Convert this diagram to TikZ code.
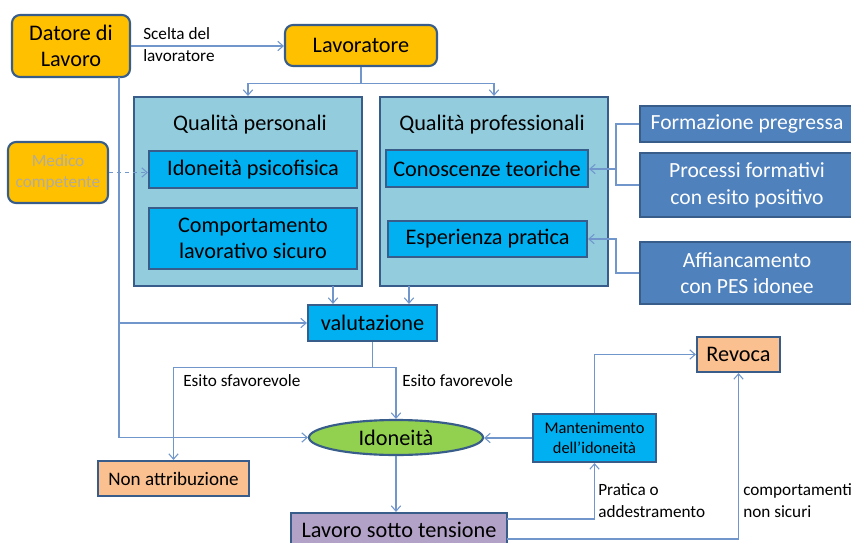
\documentclass[tikz,border=0pt]{standalone}
\usepackage{fontspec}
\setmainfont{Carlito}
\usetikzlibrary{arrows.meta,shapes.geometric}
\definecolor{bordo}{HTML}{385D8A}
\definecolor{arancio}{HTML}{FFC000}
\definecolor{azzurro}{HTML}{93CDDD}
\definecolor{ciano}{HTML}{00B0F0}
\definecolor{acciaio}{HTML}{4F81BD}
\definecolor{verde}{HTML}{92D050}
\definecolor{pesca}{HTML}{FAC090}
\definecolor{lilla}{HTML}{B3A2C7}
\definecolor{linea}{HTML}{7096CC}
\definecolor{grigio}{HTML}{B2AC9E}
\tikzset{
  sz/.style 2 args={minimum width=#1*0.75pt,minimum height=#2*0.75pt},
  box/.style={draw=bordo,line width=1.6pt,inner sep=0pt,align=center},
  tondo/.style={box,fill=arancio,rounded corners=6pt},
  gruppo/.style={box,fill=azzurro},
  cianobox/.style={box,fill=ciano},
  acciaiobox/.style={box,fill=acciaio,text=white,font=\fontsize{16.2}{20}\selectfont},
  pescabox/.style={box,fill=pesca},
  lillabox/.style={box,fill=lilla},
  ellisse/.style={box,ellipse,fill=verde},
  fA/.style={font=\fontsize{16.7}{20}\selectfont},
  fB/.style={font=\fontsize{14.3}{18}\selectfont},
  fC/.style={font=\fontsize{12.9}{16}\selectfont},
  etichetta/.style={fC,align=left,inner sep=0pt,anchor=west},
  conn/.style={draw=linea,line width=0.8pt},
  arr/.style={conn,-{Straight Barb[length=4pt,width=7pt]}}
}
\begin{document}
\begin{tikzpicture}[x=0.75pt,y=-0.75pt]
\useasboundingbox (0,0) rectangle (851,543);
\node[tondo,sz={118}{62},fA] (datore) at (71,46) {Datore di\\Lavoro};
\node[tondo,sz={152}{41},fA] (lavoratore) at (361,45.5) {Lavoratore};
\node[gruppo,sz={228}{189}] (qpers) at (248,191.5) {};
\node[fA] (qperst) at (250,125) {Qualità personali};
\node[gruppo,sz={228}{189}] (qprof) at (494,191.5) {};
\node[fA] (qproft) at (492,125) {Qualità professionali};
\node[cianobox,sz={208}{37},fA] (idon) at (253,169.5) {Idoneità psicofisica};
\node[cianobox,sz={208}{61},fA] (compor) at (253,238.5) {Comportamento\\lavorativo sicuro};
\node[cianobox,sz={202}{37},fA] (conosc) at (487,168.5) {Conoscenze teoriche};
\node[cianobox,sz={199}{36},fA] (esper) at (487.5,239) {Esperienza pratica};
\node[acciaiobox,sz={214}{36}] (formaz) at (747,124) {Formazione pregressa};
\node[acciaiobox,sz={214}{64}] (processi) at (747,185) {Processi formativi\\con esito positivo};
\node[acciaiobox,sz={214}{62}] (affianc) at (747,273) {Affiancamento\\con PES idonee};
\node[tondo,sz={100}{61},fC,text=grigio] (medico) at (58,172.5) {Medico\\competente};
\node[cianobox,sz={129}{36},fA] (valut) at (372.5,323) {valutazione};
\node[ellisse,sz={174}{35},fA] (idoneita) at (396,437.5) {Idoneità};
\node[pescabox,sz={151}{35},fB] (nonattr) at (173.5,478.5) {Non attribuzione};
\node[lillabox,sz={216}{34},fA] (lavoro) at (399,530) {Lavoro sotto tensione};
\node[cianobox,sz={123}{48},font=\fontsize{12.3}{15}\selectfont] (manten) at (594.5,438) {Mantenimento\\dell’idoneità};
\node[pescabox,sz={83}{35},fA] (revoca) at (738.5,354.5) {Revoca};
\coordinate (dtrunk) at (119,77);
\coordinate (fbr) at (616,169);
\coordinate (abr) at (616,239);
\coordinate (v1) at (333,286);
\coordinate (v2) at (409,286);
\coordinate (lp) at (507,519);
\coordinate (lc) at (507,539);
\draw[arr] (datore.east) -- (datore.east -| lavoratore.west);
\node[etichetta] (scelta) at (143,44.5) {Scelta del\\lavoratore};
\draw[arr] (lavoratore.south) -- ++(0,16.5) -| (qpers.north);
\draw[arr] (lavoratore.south) -- ++(0,16.5) -| (qprof.north);
\draw[arr,dashed] (medico.east) -- (medico.east -| idon.west);
\draw[conn] (formaz.west) -| (fbr) |- (processi.west);
\draw[arr] (fbr) -- (fbr -| conosc.east);
\draw[arr] (affianc.west) -| (abr) -- (abr -| esper.east);
\draw[arr] (dtrunk) |- (valut.west);
\draw[arr] (dtrunk) |- (idoneita.west);
\draw[arr] (v1) -- (v1 |- valut.north);
\draw[arr] (v2) -- (v2 |- valut.north);
\draw[conn] (valut.south) -- ++(0,25) coordinate (vsplit);
\draw[arr] (vsplit) -| (nonattr.north);
\draw[arr] (vsplit) -| (idoneita.north);
\node[etichetta] (sfav) at (183,381) {Esito sfavorevole};
\node[etichetta] (fav) at (402,381) {Esito favorevole};
\draw[arr] (idoneita.south) -- (idoneita.south |- lavoro.north);
\draw[arr] (manten.west) -- (manten.west -| idoneita.east);
\draw[arr] (lp) -| (manten.south);
\node[etichetta] (pratica) at (598,500.5) {Pratica o\\addestramento};
\draw[arr] (manten.north) |- (revoca.west);
\draw[arr] (lc) -| (revoca.south);
\node[etichetta] (comport) at (743,500.5) {comportamenti\\non sicuri};
\end{tikzpicture}
\end{document}
